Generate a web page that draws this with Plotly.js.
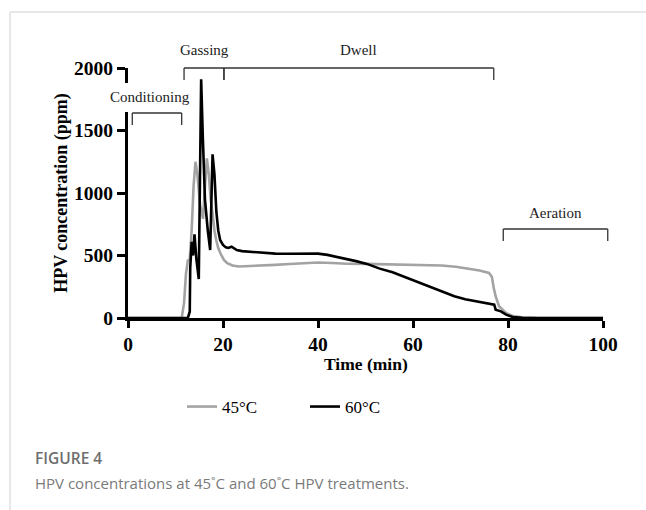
<!DOCTYPE html>
<html>
<head>
<meta charset="utf-8">
<script src="https://cdn.plot.ly/plotly-3.0.1.min.js"></script>
<style>html,body{margin:0;padding:0;background:#fff;}#chart{width:646px;height:510px;}</style>
</head>
<body>
<div id="chart"></div>
<script>
// ---- data ----
const seriesNames = ["45°C", "60°C"];
const time45 = [0, 5, 10, 11.3, 11.8, 12.2, 12.6, 13.0, 13.4, 13.8, 14.2, 14.6, 15.2, 15.8, 16.2, 16.6, 17.0, 17.4, 17.8, 18.2, 18.6, 19.0, 19.5, 20.2, 20.9, 22, 23.3, 25, 28, 31, 34, 37, 40, 43, 46, 50, 54, 58, 62, 66, 69, 72, 74, 76, 76.6, 77.0, 77.4, 78.1, 79.6, 81, 83, 86, 90, 95, 100];
const conc45 = [0, 0, 0, 0, 120, 352, 460, 470, 700, 1050, 1250, 1150, 900, 795, 1050, 1277, 1150, 950, 835, 700, 620, 560, 514, 465, 438, 420, 412, 414, 416, 425, 432, 440, 444, 440, 434, 433, 430, 428, 425, 420, 410, 395, 380, 360, 330, 240, 174, 94, 40, 15, 6, 2, 1, 0, 0];
const time60 = [0, 5, 10, 12.6, 13.0, 13.1, 13.4, 13.7, 14.0, 14.4, 14.9, 15.1, 15.4, 15.75, 16.2, 16.8, 17.3, 17.8, 18.2, 18.6, 19.0, 19.4, 20.0, 20.6, 21.1, 21.8, 22.9, 24, 25.7, 28, 31, 34, 37, 40, 42, 44, 46.3, 48, 50.3, 53, 55.7, 59.3, 63.7, 66, 68.7, 71, 73.8, 76, 77.1, 77.4, 78.5, 79.6, 81, 83, 86, 100];
const conc60 = [0, 0, 0, 0, 50, 400, 610, 500, 670, 470, 312, 1000, 1910, 1450, 950, 700, 544, 1310, 1150, 850, 700, 624, 585, 565, 560, 570, 544, 535, 530, 520, 515, 514, 515, 515, 505, 490, 473, 455, 433, 395, 366, 313, 246, 210, 174, 150, 128, 115, 107, 67, 53, 27, 8, 2, 0, 0];
const xTicks = [0, 20, 40, 60, 80, 100];
const yTicks = [0, 500, 1000, 1500, 2000];
const phaseNames = ["Conditioning", "Gassing", "Dwell", "Aeration"];
const phaseStart = [0.9, 11.8, 20.2, 79];
const phaseEnd = [11.3, 20.2, 77, 101];

// ---- layout helpers ----
const X_MAX = 100, Y_MAX = 2000;
const PLOT_W = 475, PLOT_H = 250;
const px = v => v / X_MAX;            // data x -> paper x
const serif = "Liberation Serif, Times New Roman, serif";
const bracketLevels = [ [0.82, 0.772], [1.0, 0.952], [1.0, 0.952], [0.356, 0.308] ];
const labelY = [0.884, 1.072, 1.072, 0.42];
const labelX = [4.6, null, null, null];
const bracketColor = "#333333";

const shapes = [];
const annotations = [];
phaseNames.forEach((name, i) => {
  const [top, bot] = bracketLevels[i];
  const x0 = px(phaseStart[i]), x1 = px(phaseEnd[i]);
  const L = {color: bracketColor, width: 1.3};
  shapes.push({type: "line", xref: "paper", yref: "paper", x0: x0, x1: x1, y0: top, y1: top, line: L});
  shapes.push({type: "line", xref: "paper", yref: "paper", x0: x0, x1: x0, y0: top, y1: bot, line: L});
  shapes.push({type: "line", xref: "paper", yref: "paper", x0: x1, x1: x1, y0: top, y1: bot, line: L});
  const cx = labelX[i] !== null ? labelX[i] : (phaseStart[i] + phaseEnd[i]) / 2;
  annotations.push({text: name, xref: "paper", yref: "paper", x: px(cx), y: labelY[i],
    xanchor: "center", yanchor: "middle", showarrow: false,
    font: {family: serif, size: 15, color: "#222"}});
});
// break in the y axis line (as in the reference)
shapes.push({type: "rect", xref: "paper", yref: "paper", x0: -6/PLOT_W, x1: 1/PLOT_W, y0: 0.824, y1: 0.94,
  line: {width: 0}, fillcolor: "#ffffff", layer: "above"});
// figure frame
shapes.push({type: "line", xref: "paper", yref: "paper", x0: -0.2484, x1: 1.1, y0: 1.224, y1: 1.224, line: {color: "#d0d0d0", width: 1}});
shapes.push({type: "line", xref: "paper", yref: "paper", x0: -0.2484, x1: -0.2484, y0: 1.224, y1: -0.8, line: {color: "#d0d0d0", width: 1}});

// x axis title
annotations.push({text: "Time (min)", xref: "paper", yref: "paper", x: 0.5, y: -46/PLOT_H, xanchor: "center", yanchor: "middle",
  showarrow: false, font: {family: serif, size: 17.5, color: "#000", weight: "bold"}});

// caption
annotations.push({text: "FIGURE 4", xref: "paper", yref: "paper", x: -0.2, y: -0.56, xanchor: "left", yanchor: "middle",
  showarrow: false, font: {family: "Open Sans, sans-serif", size: 15.5, color: "#6e6e6e", weight: 600}});
annotations.push({text: "HPV concentrations at 45˚C and 60˚C HPV treatments.", xref: "paper", yref: "paper", x: -0.2, y: -0.66,
  xanchor: "left", yanchor: "middle", showarrow: false, font: {family: "Open Sans, sans-serif", size: 15, color: "#7a7a7a"}});

const traces = [
  {x: time45, y: conc45, name: seriesNames[0], type: "scatter", mode: "lines", line: {color: "#a3a3a3", width: 2.6}},
  {x: time60, y: conc60, name: seriesNames[1], type: "scatter", mode: "lines", line: {color: "#000000", width: 2.6}}
];

const axisCommon = {
  showline: true, linecolor: "#000", linewidth: 3, ticks: "outside", ticklen: 7, tickwidth: 3, tickcolor: "#000",
  showgrid: false, zeroline: false, tickfont: {family: serif, size: 19.5, color: "#000", weight: "bold"},
  layer: "below traces"
};

const layout = {
  width: 646, height: 510,
  margin: {l: 128, r: 43, t: 68, b: 192},
  paper_bgcolor: "#fff", plot_bgcolor: "#fff",
  showlegend: true,
  xaxis: Object.assign({}, axisCommon, {range: [0, X_MAX], tickvals: xTicks, ticktext: xTicks.map(String)}),
  yaxis: Object.assign({}, axisCommon, {range: [0, Y_MAX], tickvals: yTicks, ticktext: yTicks.map(String), ticklen: 8,
    title: {text: "HPV concentration (ppm)", font: {family: serif, size: 18, color: "#000", weight: "bold"}, standoff: 2}}),
  legend: {orientation: "h", x: 0.1137, xanchor: "left", y: -0.356, yanchor: "middle",
    font: {family: serif, size: 17, color: "#000"}, entrywidth: 78, entrywidthmode: "pixels", bgcolor: "rgba(0,0,0,0)"},
  shapes: shapes,
  annotations: annotations
};

Plotly.newPlot("chart", traces, layout, {displayModeBar: false, staticPlot: true});
</script>
</body>
</html>
